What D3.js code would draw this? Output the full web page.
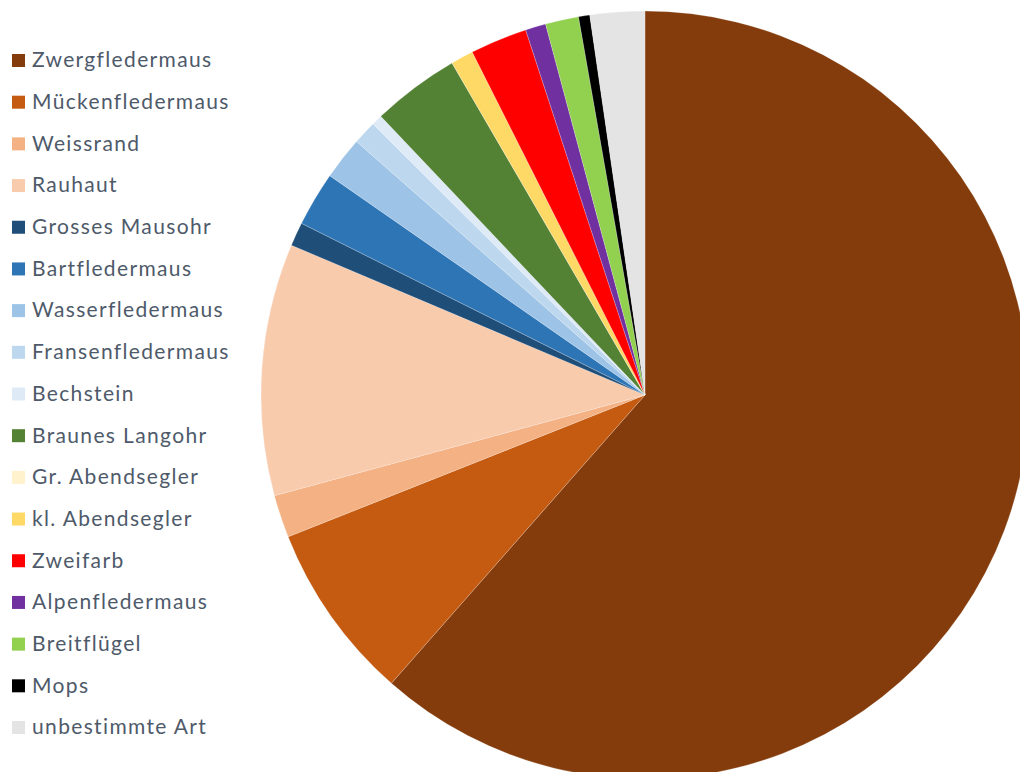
<!DOCTYPE html>
<html>
<head>
<meta charset="utf-8">
<script src="https://cdn.jsdelivr.net/npm/d3@7"></script>
<style>
  html, body { margin: 0; padding: 0; background: #fff; overflow: hidden; }
  text { font-variant-ligatures: none; }
</style>
</head>
<body>
<div id="chart"></div>
<script>
// species (legend order = slice order, clockwise from 12 o'clock)
const species = [
  "Zwergfledermaus", "Mückenfledermaus", "Weissrand", "Rauhaut",
  "Grosses Mausohr", "Bartfledermaus", "Wasserfledermaus", "Fransenfledermaus",
  "Bechstein", "Braunes Langohr", "Gr. Abendsegler", "kl. Abendsegler",
  "Zweifarb", "Alpenfledermaus", "Breitflügel", "Mops", "unbestimmte Art"
];

// share in percent
const shares = [
  61.5, 7.5, 1.8, 10.6,
  1.0, 2.3, 1.8, 1.0,
  0.45, 3.7, 0, 0.95,
  2.4, 0.86, 1.4, 0.47, 2.3
];

const colours = [
  "#843C0C", "#C55A11", "#F4B183", "#F8CBAD",
  "#1F4E79", "#2E75B6", "#9DC3E6", "#BDD7EE",
  "#DEEBF7", "#548235", "#FFF2CC", "#FFD966",
  "#FF0000", "#7030A0", "#92D050", "#000000", "#E4E4E4"
];

const width = 1020, height = 772;
const cx = 645, cy = 395, radius = 384;

const data = species.map((s, i) => ({ name: s, value: shares[i], colour: colours[i] }));

const svg = d3.select("#chart").append("svg")
  .attr("width", width)
  .attr("height", height);

/* pie */
const pie = d3.pie().sort(null).value(d => d.value);
const arc = d3.arc().innerRadius(0).outerRadius(radius);

svg.append("g")
  .attr("transform", `translate(${cx},${cy})`)
  .selectAll("path")
  .data(pie(data))
  .join("path")
    .attr("d", arc)
    .attr("fill", d => d.data.colour)
    .attr("stroke", "#fff")
    .attr("stroke-width", 0.4)
    .attr("stroke-opacity", 0.5);

/* legend */
const legendY = d3.scalePoint(species, [60, 727]);

const legend = svg.append("g")
  .attr("font-family", "Lato, 'Open Sans', sans-serif")
  .attr("font-size", 21)
  .attr("letter-spacing", 1.35)
  .attr("fill", "#4E5A6A");

legend.selectAll("g")
  .data(data)
  .join("g")
    .attr("transform", d => `translate(0,${legendY(d.name)})`)
  .call(g => {
    g.append("rect")
      .attr("x", 12)
      .attr("y", -6)
      .attr("width", 13)
      .attr("height", 13)
      .attr("fill", d => d.colour);

    g.append("text")
      .attr("x", 32)
      .attr("y", 0)
      .attr("dy", "0.35em")
      .text(d => d.name);
  });
</script>
</body>
</html>
